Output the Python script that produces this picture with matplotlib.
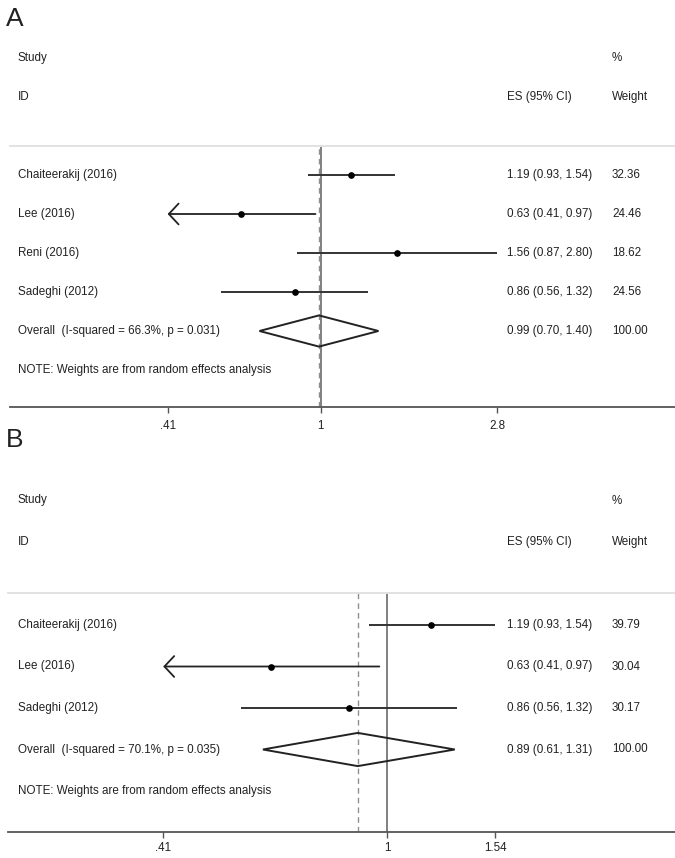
import matplotlib
matplotlib.use("Agg")
import matplotlib.pyplot as plt
import matplotlib.transforms as mtransforms
from matplotlib.ticker import FixedLocator, NullLocator, FixedFormatter
import numpy as np

plt.rcParams['font.family'] = ['Liberation Sans', 'DejaVu Sans']

# ---------------- data ----------------
studies_A = ["Chaiteerakij (2016)", "Lee (2016)", "Reni (2016)", "Sadeghi (2012)"]
es_A = [1.19, 0.63, 1.56, 0.86]
lo_A = [0.93, 0.41, 0.87, 0.56]
hi_A = [1.54, 0.97, 2.80, 1.32]
weight_A = [32.36, 24.46, 18.62, 24.56]
arrow_left_A = [False, True, False, False]
overall_A = [0.99, 0.70, 1.40]
overall_label_A = "Overall  (I-squared = 66.3%, p = 0.031)"
ticks_A = [0.41, 1, 2.8]
ticklabels_A = [".41", "1", "2.8"]

studies_B = ["Chaiteerakij (2016)", "Lee (2016)", "Sadeghi (2012)"]
es_B = [1.19, 0.63, 0.86]
lo_B = [0.93, 0.41, 0.56]
hi_B = [1.54, 0.97, 1.32]
weight_B = [39.79, 30.04, 30.17]
arrow_left_B = [False, True, False]
overall_B = [0.89, 0.61, 1.31]
overall_label_B = "Overall  (I-squared = 70.1%, p = 0.035)"
ticks_B = [0.41, 1, 1.54]
ticklabels_B = [".41", "1", "1.54"]

note = "NOTE: Weights are from random effects analysis"

W, H = 675, 858
fig = plt.figure(figsize=(W / 100, H / 100), dpi=100)
fig.patch.set_facecolor("white")

TXT = "#222222"
FS = 8.4


def panel(letter, letter_y, left_px, top_px, bottom_px, row0_px, rowsp, xlim,
          studies, es, lo, hi, wt, arrows, overall, olabel, ticks, tlabels, pad):
    ax = fig.add_axes([left_px / W, 1 - bottom_px / H, (W - left_px) / W,
                       (bottom_px - top_px) / H])
    n = len(studies)
    ax.set_xscale("log")
    ax.set_xlim(*xlim)
    ytop = -(row0_px - top_px) / rowsp
    ybot = (bottom_px - row0_px) / rowsp
    ax.set_ylim(ybot, ytop)
    ax.set_yticks([])
    for s in ["left", "right"]:
        ax.spines[s].set_visible(False)
    ax.spines["top"].set_color("#e2e2e2")
    ax.spines["top"].set_linewidth(1.4)
    ax.spines["bottom"].set_color("#555555")
    ax.spines["bottom"].set_linewidth(1.3)
    ax.xaxis.set_major_locator(FixedLocator(ticks))
    ax.xaxis.set_major_formatter(FixedFormatter(tlabels))
    ax.xaxis.set_minor_locator(NullLocator())
    ax.tick_params(axis="x", direction="out", length=4.5, width=1.0,
                   color="#555555", labelsize=FS, labelcolor=TXT, pad=pad)

    # reference lines
    ax.axvline(1, color="#6a6a6a", lw=1.2, zorder=1)
    ax.axvline(overall[0], color="#8f8f8f", lw=1.0, ls=(0, (4, 3)), zorder=1)

    xmin = min(ticks)
    for i in range(n):
        if arrows[i]:
            ax.annotate("", xy=(max(lo[i], xmin), i), xytext=(hi[i], i),
                        arrowprops=dict(arrowstyle="->,head_length=0.7,head_width=0.75",
                                        lw=1.3, color="#222222", shrinkA=0, shrinkB=0,
                                        mutation_scale=10), zorder=3)
        else:
            ax.plot([lo[i], hi[i]], [i, i], color="#333333", lw=1.4,
                    solid_capstyle="butt", zorder=3)
        ax.plot([es[i]], [i], "o", color="black", ms=3.8, zorder=4)

    # diamond
    dh = 0.4
    ax.fill([overall[1], overall[0], overall[2], overall[0], overall[1]],
            [n, n - dh, n, n + dh, n], facecolor="none", edgecolor="#222222",
            lw=1.4, zorder=3)

    tr_lab = mtransforms.blended_transform_factory(fig.transFigure, ax.transData)
    x_lab, x_es, x_w = 18 / W, 507 / W, 612 / W
    # headers
    ax.text(x_lab, -3, "Study", transform=tr_lab, fontsize=FS, color=TXT,
            va="center", ha="left", clip_on=False)
    ax.text(x_lab, -2, "ID", transform=tr_lab, fontsize=FS, color=TXT,
            va="center", ha="left", clip_on=False)
    ax.text(x_es, -2, "ES (95% CI)", transform=tr_lab, fontsize=FS, color=TXT,
            va="center", ha="left", clip_on=False)
    ax.text(x_w, -3, "%", transform=tr_lab, fontsize=FS, color=TXT,
            va="center", ha="left", clip_on=False)
    ax.text(x_w, -2, "Weight", transform=tr_lab, fontsize=FS, color=TXT,
            va="center", ha="left", clip_on=False)
    for i in range(n):
        ax.text(x_lab, i, studies[i], transform=tr_lab, fontsize=FS, color=TXT,
                va="center", ha="left")
        ax.text(x_es, i, f"{es[i]:.2f} ({lo[i]:.2f}, {hi[i]:.2f})", transform=tr_lab,
                fontsize=FS, color=TXT, va="center", ha="left")
        ax.text(x_w, i, f"{wt[i]:.2f}", transform=tr_lab, fontsize=FS, color=TXT,
                va="center", ha="left")
    ax.text(x_lab, n, olabel, transform=tr_lab, fontsize=FS, color=TXT,
            va="center", ha="left")
    ax.text(x_es, n, f"{overall[0]:.2f} ({overall[1]:.2f}, {overall[2]:.2f})",
            transform=tr_lab, fontsize=FS, color=TXT, va="center", ha="left")
    ax.text(x_w, n, f"{sum(wt):.2f}", transform=tr_lab, fontsize=FS, color=TXT,
            va="center", ha="left")
    ax.text(x_lab, n + 1, note, transform=tr_lab, fontsize=FS, color=TXT,
            va="center", ha="left")

    fig.text(6 / W, 1 - letter_y / H, letter, fontsize=19, color=TXT,
             ha="left", va="center")
    return ax


def lim(left_px, one_px, per_ln):
    return (np.exp((left_px - one_px) / per_ln), np.exp((W - one_px) / per_ln))


panel("A", 19, 10, 146, 407, 175, 39, lim(10, 320.7, 171.7),
      studies_A, es_A, lo_A, hi_A, weight_A, arrow_left_A, overall_A,
      overall_label_A, ticks_A, ticklabels_A, 5)
panel("B", 440, 8, 593, 832, 625, 41.5, lim(8, 387, 251),
      studies_B, es_B, lo_B, hi_B, weight_B, arrow_left_B, overall_B,
      overall_label_B, ticks_B, ticklabels_B, 2.5)

fig.savefig("out.png", dpi=100, facecolor="white")
